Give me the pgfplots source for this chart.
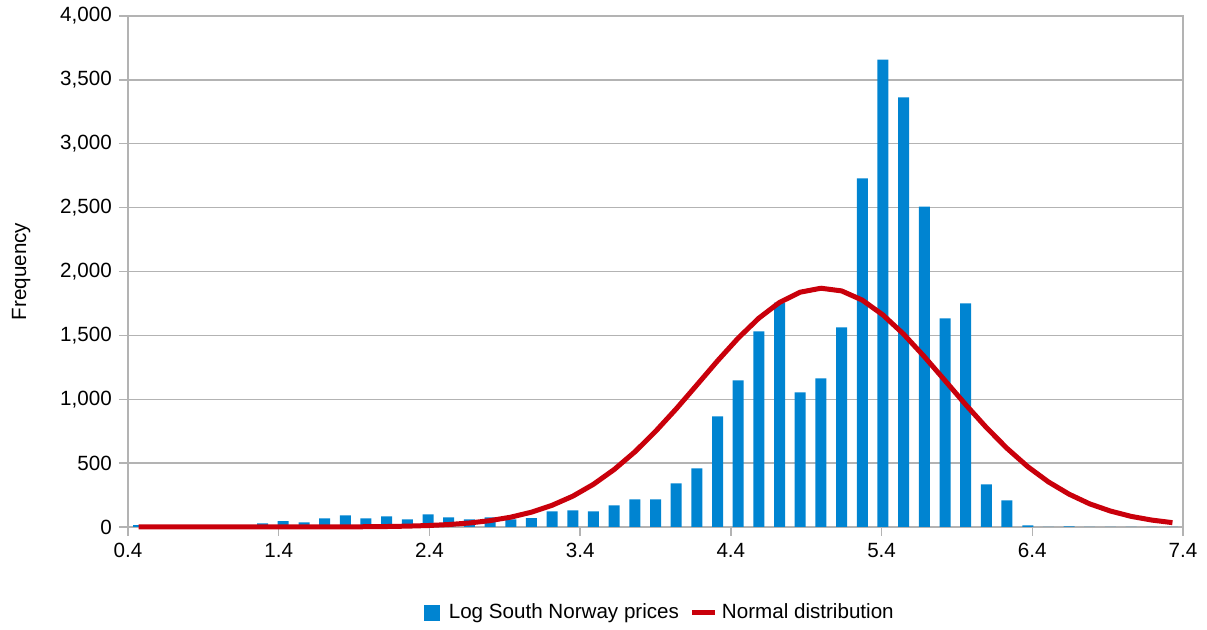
\documentclass[border=0pt]{standalone}
\usepackage{fontspec}
\setmainfont{Liberation Sans}
\usepackage{pgfplots}
\usepackage{pgfplotstable}
\pgfplotsset{compat=1.18}
\definecolor{barblue}{RGB}{0,132,209}
\definecolor{curvered}{RGB}{201,0,11}
\definecolor{gridgray}{RGB}{179,179,179}
\pgfplotstableread{
x bar norm
0.470 15 0
0.607 1 0
0.744 2 0
0.882 4 0
1.019 6 0
1.156 12 0
1.293 29 0.1
1.430 45 0.1
1.568 37 0.3
1.705 68 0.6
1.842 91 1.1
1.979 68 2.0
2.116 84 3.7
2.254 60 6.6
2.391 99 11.4
2.528 76 19.2
2.665 60 31.3
2.802 76 49.8
2.940 60 77
3.077 70 116
3.214 123 170
3.351 131 241
3.488 123 334
3.626 170 450
3.763 217 588
3.900 217 748
4.037 342 924
4.174 459 1111
4.312 866 1301
4.449 1148 1479
4.586 1531 1635
4.723 1757 1758
4.860 1054 1838
4.998 1164 1869
5.135 1563 1848
5.272 2729 1776
5.409 3659 1660
5.546 3362 1510
5.684 2508 1333
5.821 1633 1146
5.958 1750 958
6.095 334 779
6.232 209 616
6.370 13 472
6.507 0 353
6.644 5 257
6.781 0 181
6.918 0 125
7.056 0 83
7.193 0 54
7.330 0 34
}\datatable
\begin{document}
\fontsize{10.3}{12.4}\selectfont
\begin{tikzpicture}
\begin{axis}[
  at={(64pt,51.5pt)}, anchor=south west,
  scale only axis, width=527.5pt, height=255.5pt,
  xmin=0.4, xmax=7.4, ymin=0, ymax=4000,
  clip=false,
  xtick={0.4,1.4,2.4,3.4,4.4,5.4,6.4,7.4},
  xticklabels={0.4,1.4,2.4,3.4,4.4,5.4,6.4,7.4},
  ytick={0,500,1000,1500,2000,2500,3000,3500,4000},
  /pgf/number format/assume math mode=true,
  /pgf/number format/1000 sep={,},
  scaled y ticks=false,
  tick align=outside, tick pos=left, major tick length=4.5pt,
  tick style={gridgray, line width=0.65pt},
  axis line style={gridgray, line width=0.65pt},
  ymajorgrids, grid style={gridgray, line width=0.65pt},
  ylabel={Frequency},
  every axis y label/.style={at={(axis description cs:-0.1012,0.5)}, rotate=90, anchor=center},
  legend style={at={(axis description cs:0.505,-0.168)}, anchor=center, draw=none, fill=none,
    /tikz/every even column/.append style={column sep=3.5pt}},
  legend columns=2, legend cell align=left,
]
\addplot[ybar, bar width=5.5pt, bar shift=0pt, fill=barblue, draw=none,
  legend image code/.code={\fill[barblue] (0pt,-4pt) rectangle (8pt,4pt); \path (10.5pt,0pt);}]
  table[x=x, y=bar]{\datatable};
\addlegendentry{Log South Norway prices}
\addplot[curvered, line width=2.5pt, no markers, line join=round,
  legend image code/.code={\draw[curvered, line width=2.5pt] (0pt,0pt) -- (11.5pt,0pt);}]
  table[x=x, y=norm]{\datatable};
\addlegendentry{Normal distribution}
\end{axis}
\pgfresetboundingbox
\useasboundingbox (0,0) rectangle (603.5pt,315pt);
\end{tikzpicture}
\end{document}
